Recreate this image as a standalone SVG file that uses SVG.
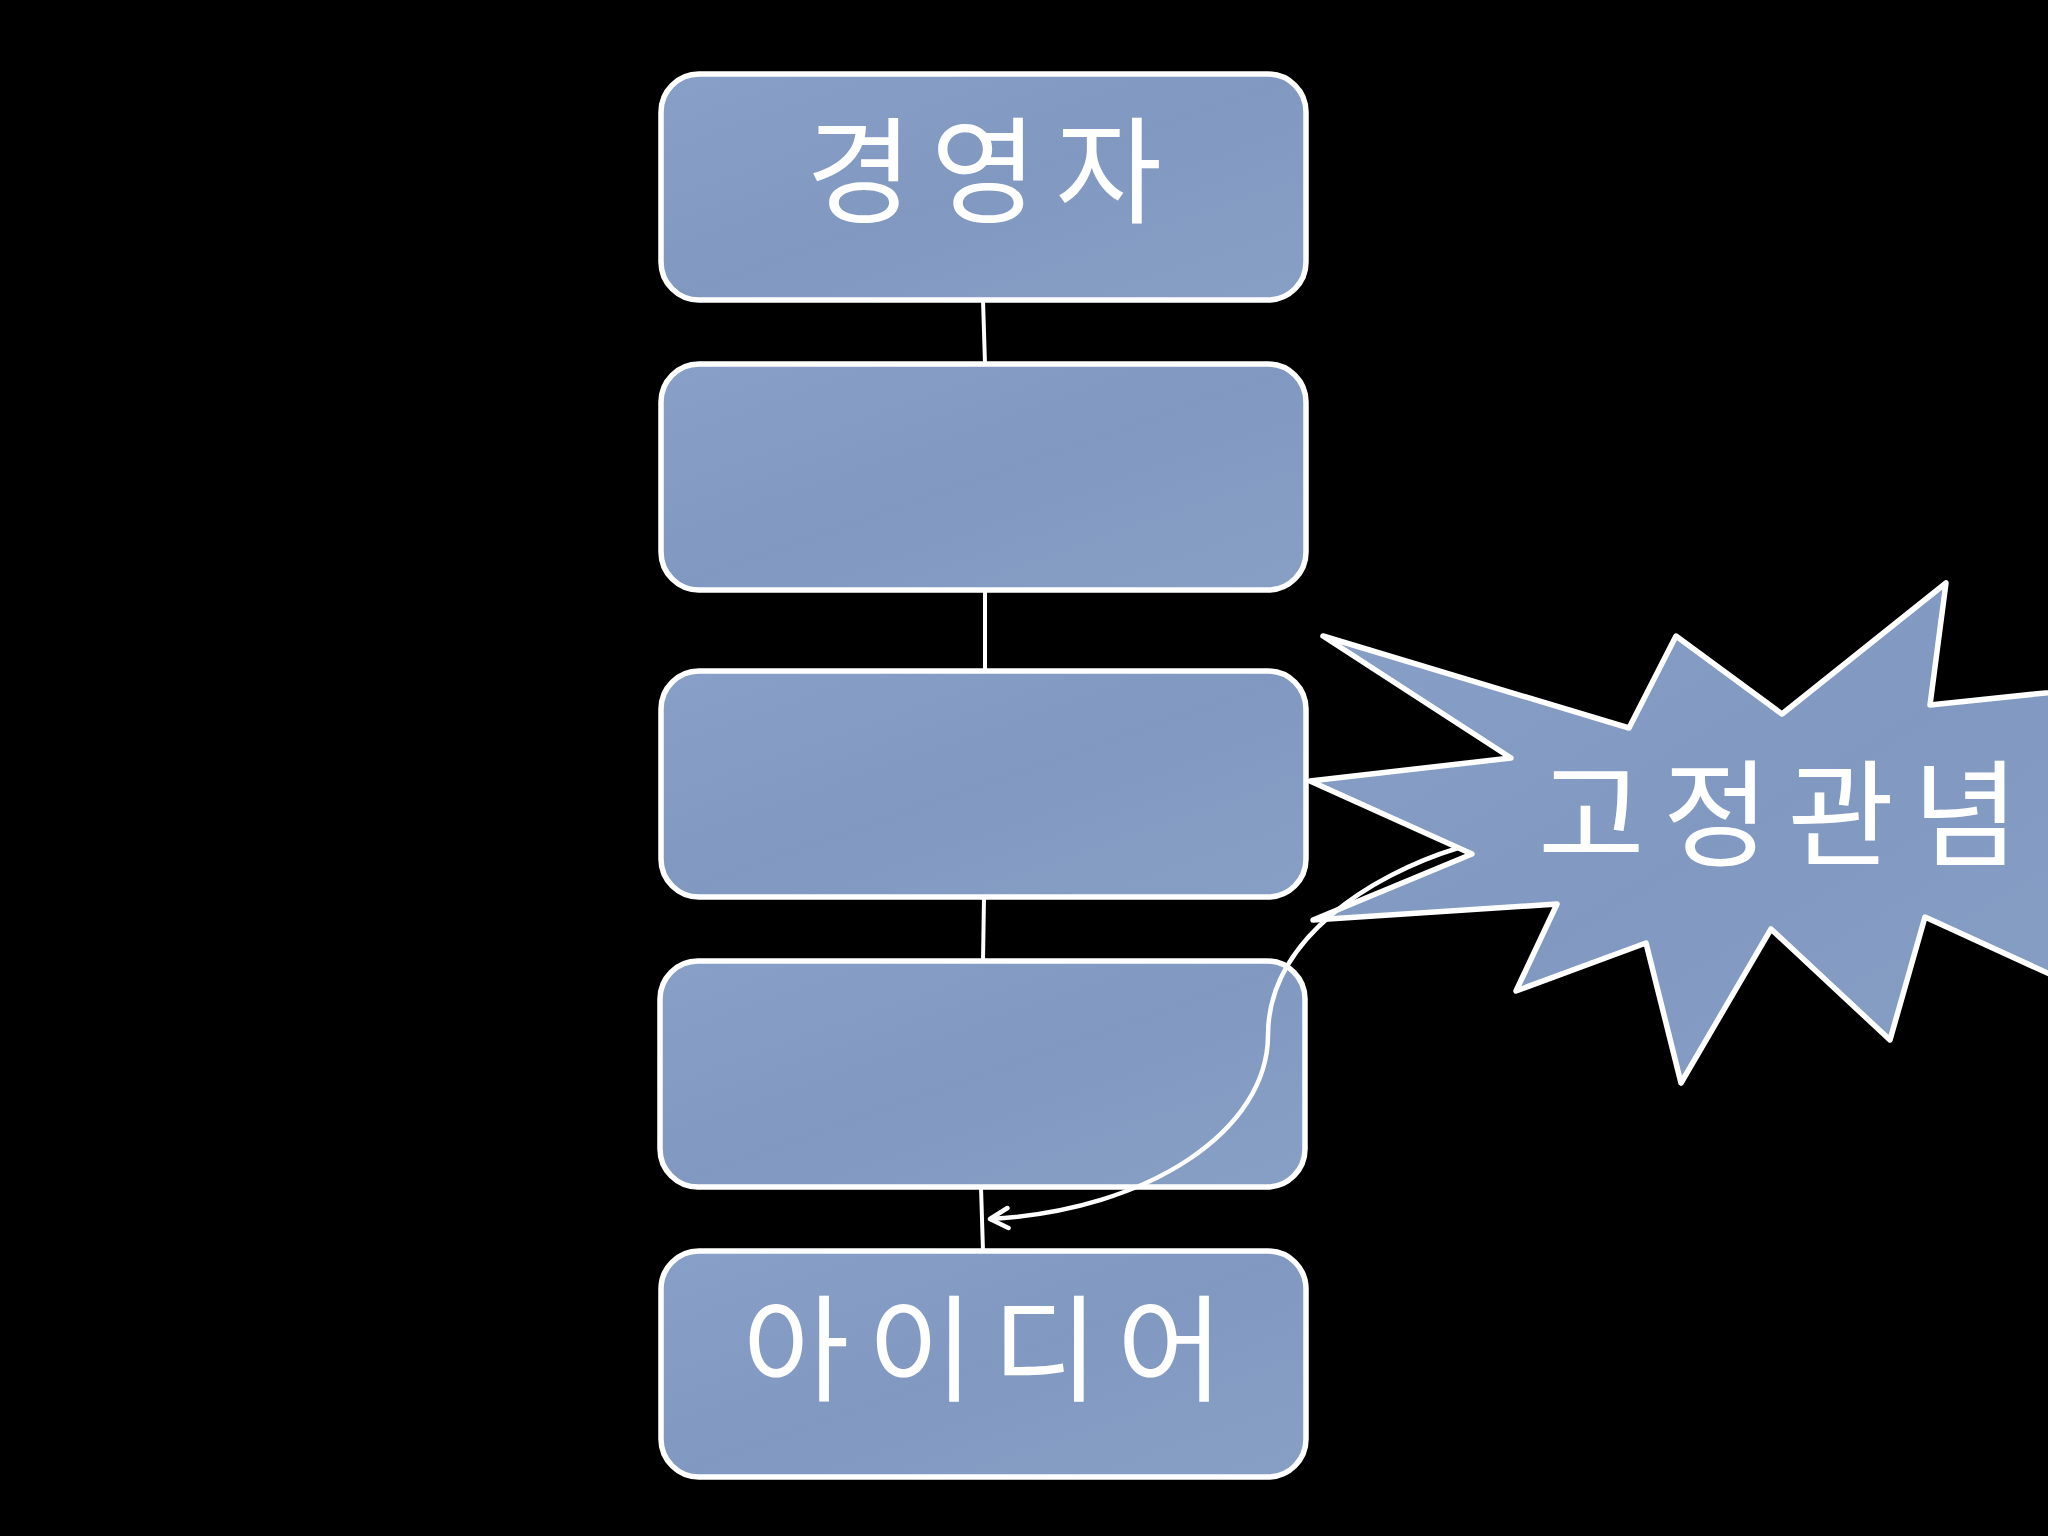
<svg xmlns="http://www.w3.org/2000/svg" width="2048" height="1536" viewBox="0 0 2048 1536">
<defs>
<linearGradient id="fillg" x1="0" y1="0" x2="1" y2="1">
<stop offset="0" stop-color="#88A0C7"/>
<stop offset="0.5" stop-color="#8199C1"/>
<stop offset="1" stop-color="#889FC5"/>
</linearGradient>
<marker id="openArrow" viewBox="0 0 26 26" refX="22" refY="13" markerWidth="26" markerHeight="26" markerUnits="userSpaceOnUse" orient="auto">
<path d="M4 3 L22 13 L4 23" fill="none" stroke="#FFFFFF" stroke-width="4.5" stroke-linecap="round" stroke-linejoin="round"/>
</marker>
</defs>
<style>
.box{fill:url(#fillg);stroke:#FFFFFF;stroke-width:5.5}
.conn{stroke:#FFFFFF;stroke-width:4;fill:none}
.curve{stroke:#FFFFFF;stroke-width:4.5;fill:none}
.lbl{font-family:"Noto Sans CJK KR","Noto Sans",sans-serif;font-size:116px;fill:#FFFFFF;letter-spacing:18px}
</style>
<rect width="2048" height="1536" fill="#000000"/>
<g id="connectors">
<line class="conn" x1="983" y1="300" x2="985" y2="364"/>
<line class="conn" x1="985" y1="590" x2="985" y2="671"/>
<line class="conn" x1="984" y1="897" x2="983" y2="961"/>
<line class="conn" x1="981" y1="1187" x2="983" y2="1251"/>
</g>
<g id="node1">
<rect class="box" x="661" y="74" width="645" height="226" rx="38"/>
<text class="lbl" x="993" y="214" text-anchor="middle">경영자</text>
</g>
<g id="node2">
<rect class="box" x="661" y="364" width="645" height="226" rx="38"/>
</g>
<g id="node3">
<rect class="box" x="661" y="671" width="645" height="226" rx="38"/>
</g>
<g id="node4">
<rect class="box" x="660" y="961" width="645" height="226" rx="38"/>
</g>
<g id="node5">
<rect class="box" x="661" y="1251" width="645" height="226" rx="38"/>
<text class="lbl" x="992" y="1392" text-anchor="middle">아이디어</text>
</g>
<g id="burst">
<polygon class="box" stroke-linejoin="round" points="1323,636 1629,728 1676,636 1782,714 1946,583 1930,705 2150,682 2150,1020 1925,917 1890,1040 1771,929 1681,1083 1646,943 1516,991 1557,904 1313,920 1472,854 1310,781 1511,758"/>
<text class="lbl" x="1538" y="857">고정관념</text>
</g>
<g id="curve-arrow">
<path class="curve" d="M1458 848 C1370 875 1268 940 1268 1035 C1268 1130 1150 1210 990 1219" marker-end="url(#openArrow)"/>
</g>
</svg>
